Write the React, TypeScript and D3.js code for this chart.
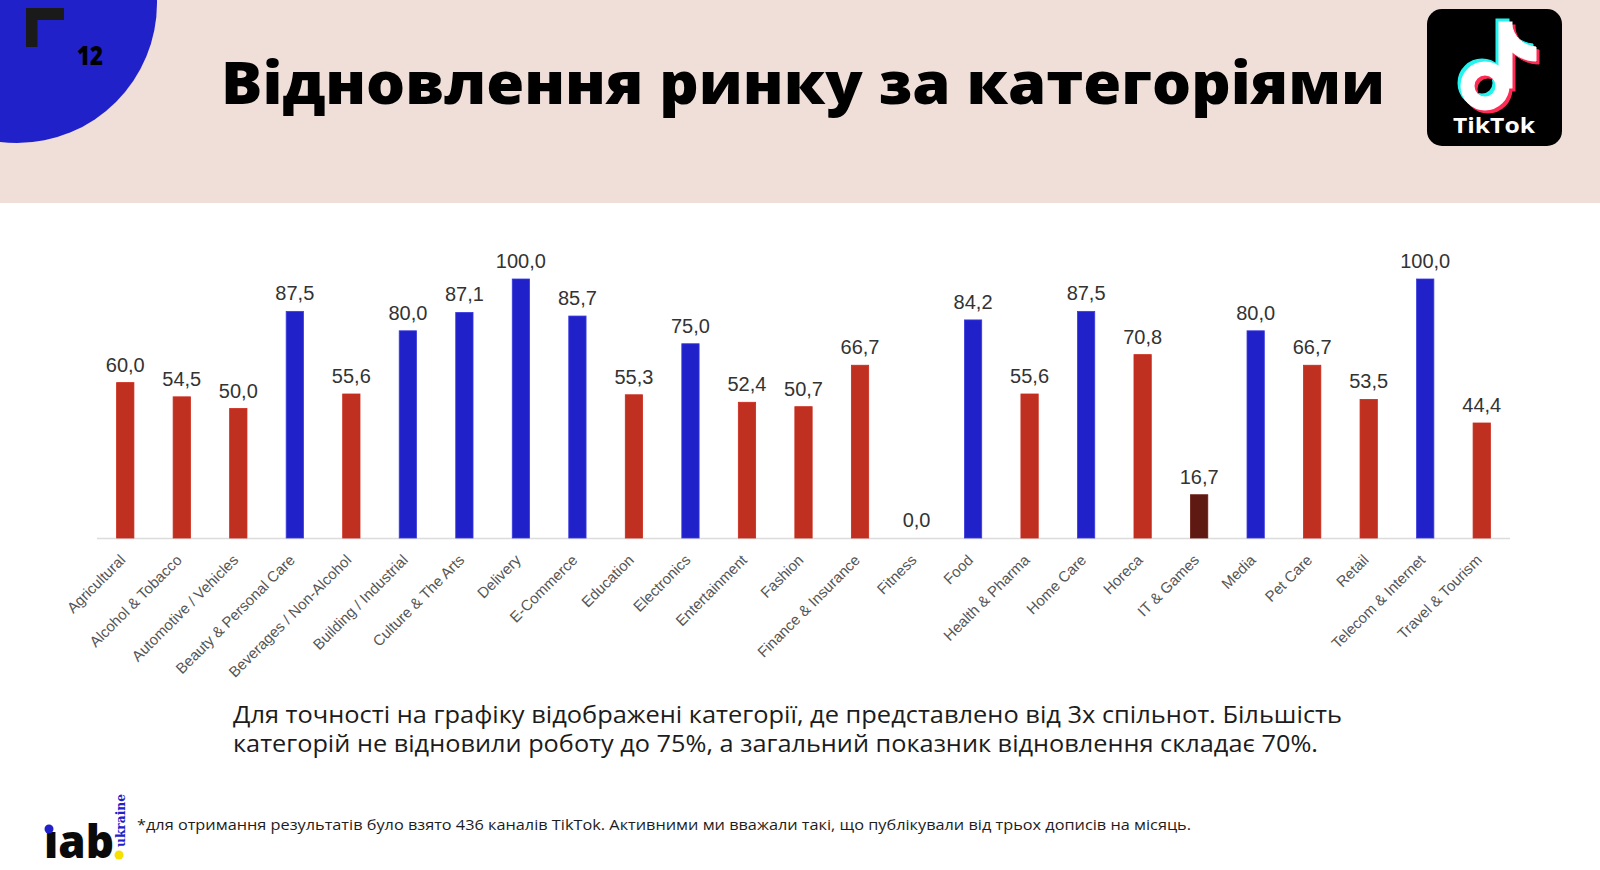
import React from 'react';
import * as d3 from 'd3';

const categories = [
  'Agricultural', 'Alcohol & Tobacco', 'Automotive / Vehicles', 'Beauty & Personal Care',
  'Beverages / Non-Alcohol', 'Building / Industrial', 'Culture & The Arts', 'Delivery',
  'E-Commerce', 'Education', 'Electronics', 'Entertainment', 'Fashion', 'Finance & Insurance',
  'Fitness', 'Food', 'Health & Pharma', 'Home Care', 'Horeca', 'IT & Games', 'Media',
  'Pet Care', 'Retail', 'Telecom & Internet', 'Travel & Tourism',
];
const values = [
  60.0, 54.5, 50.0, 87.5, 55.6, 80.0, 87.1, 100.0, 85.7, 55.3, 75.0, 52.4, 50.7, 66.7,
  0.0, 84.2, 55.6, 87.5, 70.8, 16.7, 80.0, 66.7, 53.5, 100.0, 44.4,
];
const yDomain = [0, 100];

const title = 'Відновлення ринку за категоріями';
const pageNumber = '12';
const bodyLines = [
  'Для точності на графіку відображені категорії, де представлено від 3х спільнот. Більшість',
  'категорій не відновили роботу до 75%, а загальний показник відновлення складає 70%.',
];
const footnote =
  '*для отримання результатів було взято 436 каналів TikTok. Активними ми вважали такі, що публікували від трьох дописів на місяць.';

const fmt = (v: number) => d3.format('.1f')(v).replace('.', ',');

export default function App() {
  const W = 1600;
  const H = 870;
  const x = d3
    .scaleBand<string>()
    .domain(categories)
    .range([97, 1510])
    .paddingInner(0.694)
    .paddingOuter(0.347);
  const y = d3.scaleLinear().domain(yDomain).range([538, 279]);
  const fill = (v: number) => (v >= 75 ? '#2121c9' : v < 25 ? '#5e1a12' : '#bf3021');
  const edge = (v: number) => (v >= 75 ? '#3a3ae0' : v < 25 ? '#6a1a10' : '#cc2a1a');

  const chartFont = '"Liberation Sans", Arial, sans-serif';
  const bodyFont = '"Open Sans", "Noto Sans", sans-serif';

  const notePath = (
    <>
      <circle cx={1485} cy={86} r={17.5} fill="none" strokeWidth={14} />
      <rect x={1499} y={22} width={13} height={66} />
      <path d="M1511,22 C1513,37 1523,46 1536,47 L1536,61 C1526,61 1518,57 1511,51 Z" />
    </>
  );

  return (
    <svg
      width={W}
      height={H}
      viewBox={`0 0 ${W} ${H}`}
      style={{ position: 'absolute', left: 0, top: 0, display: 'block' }}
    >
      <rect x={0} y={0} width={W} height={H} fill="#ffffff" />
      {/* header */}
      <rect x={0} y={0} width={W} height={203} fill="#efdfd8" />
      <circle cx={17} cy={3} r={140} fill="#2121c9" />
      <path d="M26,8 H64 V20 H37.5 V47 H26 Z" fill="#1a1a1a" />
      <text
        x={77}
        y={65}
        fontFamily={bodyFont}
        fontWeight={800}
        fontSize={27}
        fill="#000"
        textLength={26}
        lengthAdjust="spacingAndGlyphs"
      >
        {pageNumber}
      </text>
      <text
        x={221}
        y={104}
        fontFamily={bodyFont}
        fontWeight={800}
        fontSize={58}
        fill="#000"
        textLength={1164}
        lengthAdjust="spacingAndGlyphs"
      >
        {title}
      </text>

      {/* TikTok logo */}
      <rect x={1427} y={9} width={135} height={137} rx={15} fill="#000" />
      <g transform="translate(-3,-3)" fill="#25f4ee" stroke="#25f4ee">
        {notePath}
      </g>
      <g transform="translate(3,3)" fill="#fe2c55" stroke="#fe2c55">
        {notePath}
      </g>
      <g fill="#ffffff" stroke="#ffffff">
        {notePath}
      </g>
      <text
        x={1453}
        y={133}
        fontFamily={bodyFont}
        fontWeight={700}
        fontSize={22}
        fill="#fff"
        textLength={82}
        lengthAdjust="spacingAndGlyphs"
      >
        TikTok
      </text>

      {/* chart */}
      <line x1={97} x2={1510} y1={538.5} y2={538.5} stroke="#dcdcdc" strokeWidth={1.5} />
      {categories.map((c, i) => {
        const v = values[i];
        const bx = x(c) as number;
        const bw = x.bandwidth();
        const top = y(v);
        return (
          <g key={c}>
            {v > 0 && (
              <rect
                x={bx}
                y={top}
                width={bw}
                height={y(0) - top}
                fill={fill(v)}
                stroke={edge(v)}
                strokeWidth={0.8}
              />
            )}
            <text
              x={bx + bw / 2}
              y={top - 11}
              textAnchor="middle"
              fontFamily={chartFont}
              fontSize={20}
              fill="#333"
            >
              {fmt(v)}
            </text>
            <text
              transform={`translate(${bx + bw / 2 + 1},${561}) rotate(-45)`}
              textAnchor="end"
              fontFamily={chartFont}
              fontSize={15}
              fill="#555"
            >
              {c}
            </text>
          </g>
        );
      })}

      {/* body text */}
      {bodyLines.map((l, i) => (
        <text
          key={i}
          x={233}
          y={723 + i * 29}
          fontFamily={bodyFont}
          fontSize={23}
          fill="#1c1c1c"
          textLength={i === 0 ? 1109 : 1085}
          lengthAdjust="spacingAndGlyphs"
        >
          {l}
        </text>
      ))}

      {/* footer */}
      <text
        x={137}
        y={830}
        fontFamily={bodyFont}
        fontSize={14}
        fill="#1c1c1c"
        textLength={1054}
        lengthAdjust="spacingAndGlyphs"
      >
        {footnote}
      </text>
      <text
        x={44}
        y={858}
        fontFamily={bodyFont}
        fontWeight={800}
        fontSize={46}
        fill="#0a0a0a"
        textLength={70}
        lengthAdjust="spacingAndGlyphs"
      >
        ıab
      </text>
      <circle cx={49} cy={829} r={4.5} fill="#2121c9" />
      <circle cx={119} cy={855} r={4.5} fill="#f5e000" />
      <text
        transform="translate(125,847) rotate(-90)"
        fontFamily={'"DejaVu Serif", "Liberation Serif", serif'}
        fontWeight={700}
        fontSize={13}
        fill="#2121c9"
        textLength={53}
        lengthAdjust="spacingAndGlyphs"
      >
        ukraine
      </text>
    </svg>
  );
}
